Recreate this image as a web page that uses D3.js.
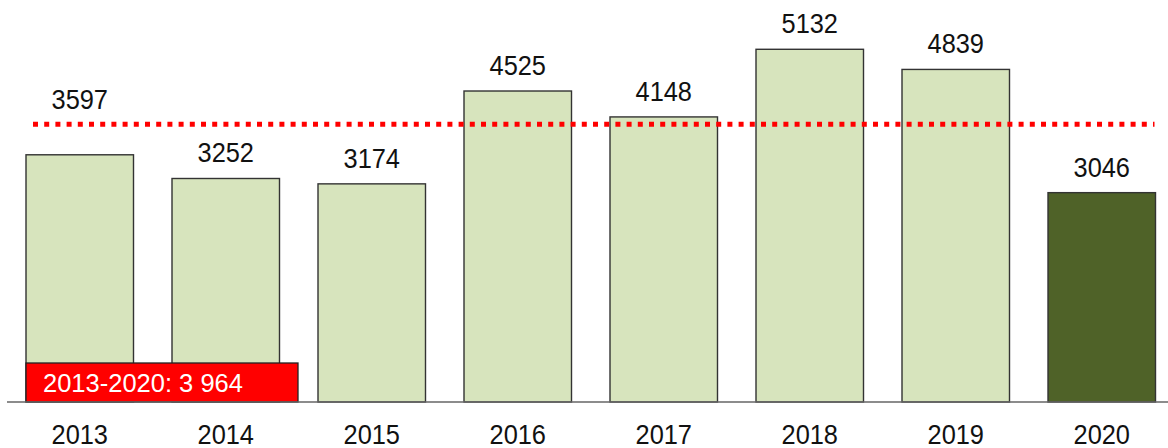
<!DOCTYPE html>
<html>
<head>
<meta charset="utf-8">
<script src="https://cdn.jsdelivr.net/npm/d3@7"></script>
<style>
  html, body { margin: 0; padding: 0; background: #fff; }
  svg { display: block; font-family: "Liberation Sans", Arial, sans-serif; }
</style>
</head>
<body>
<div id="wrapper"></div>
<script>
// values
const years = ["2013", "2014", "2015", "2016", "2017", "2018", "2019", "2020"];
const counts = [3597, 3252, 3174, 4525, 4148, 5132, 4839, 3046];
const highlightYear = "2020";
const avgLabel = "2013-2020: 3 964";
const avgLineLevel = 4040; // where the dotted line sits in the picture

const data = years.map((y, i) => ({ year: y, value: counts[i] }));

const dimension = {
    width: 1168,
    height: 448,
    baseline: 402,
    top: 24
};

const svg = d3.select("#wrapper").append("svg")
    .attr("width", dimension.width)
    .attr("height", dimension.height);

const step = 146;
const padIn = 0.2637;
const x0 = 26 - step * padIn / 2;
const xScaler = d3.scaleBand()
    .domain(years)
    .range([x0, x0 + years.length * step])
    .paddingInner(padIn)
    .paddingOuter(padIn / 2);

const yScaler = d3.scaleLinear()
    .domain([0, 5500])
    .range([dimension.baseline, dimension.top]);

// bars
svg.append("g").selectAll("rect")
    .data(data)
    .join("rect")
    .attr("x", d => xScaler(d.year))
    .attr("y", d => yScaler(d.value))
    .attr("width", xScaler.bandwidth())
    .attr("height", d => yScaler(0) - yScaler(d.value))
    .attr("fill", d => d.year === highlightYear ? "#4f6228" : "#d7e4bd")
    .attr("stroke", "#333")
    .attr("stroke-width", 1.4);

// average dotted line
const lineY = yScaler(avgLineLevel);
svg.append("line")
    .attr("x1", xScaler(years[0]) + 7)
    .attr("x2", xScaler(years[years.length - 1]) + xScaler.bandwidth() - 1)
    .attr("y1", lineY)
    .attr("y2", lineY)
    .attr("stroke", "#ff0000")
    .attr("stroke-width", 5)
    .attr("stroke-dasharray", "5,6.2");

// value labels, moved above the line when they would hit it
svg.append("g").selectAll("text")
    .data(data)
    .join("text")
    .attr("text-anchor", "middle")
    .attr("font-size", 27)
    .attr("fill", "#111")
    .attr("transform", d => {
        let y = yScaler(d.value) - 16;
        if (y > lineY - 4 && y - 20 < lineY + 4) y = lineY - 15;
        return `translate(${xScaler(d.year) + xScaler.bandwidth() / 2},${y}) scale(0.94,1)`;
    })
    .text(d => d.value);

// red average box
const boxRight = xScaler(years[1]) + xScaler.bandwidth() + 18.5;
svg.append("rect")
    .attr("x", xScaler(years[0]))
    .attr("y", dimension.baseline - 39)
    .attr("width", boxRight - xScaler(years[0]))
    .attr("height", 39)
    .attr("fill", "#ff0000")
    .attr("stroke", "#222")
    .attr("stroke-width", 1.3);

svg.append("text")
    .attr("x", xScaler(years[0]) + 17)
    .attr("y", dimension.baseline - 10)
    .attr("font-size", 25.5)
    .attr("fill", "#fff")
    .text(avgLabel);

// x axis
const xAxis = d3.axisBottom(xScaler).tickSize(0).tickPadding(0);
const axisG = svg.append("g")
    .attr("transform", `translate(0,${dimension.baseline})`)
    .call(xAxis);
axisG.select(".domain")
    .attr("d", `M7,0H${dimension.width}`)
    .attr("stroke", "#666")
    .attr("stroke-width", 1.6);
axisG.selectAll(".tick text")
    .attr("y", 0)
    .attr("dy", 0)
    .attr("font-size", 27)
    .attr("font-family", "Liberation Sans, Arial, sans-serif")
    .attr("fill", "#111")
    .attr("transform", "translate(0,41.5) scale(0.94,1)");
</script>
</body>
</html>
